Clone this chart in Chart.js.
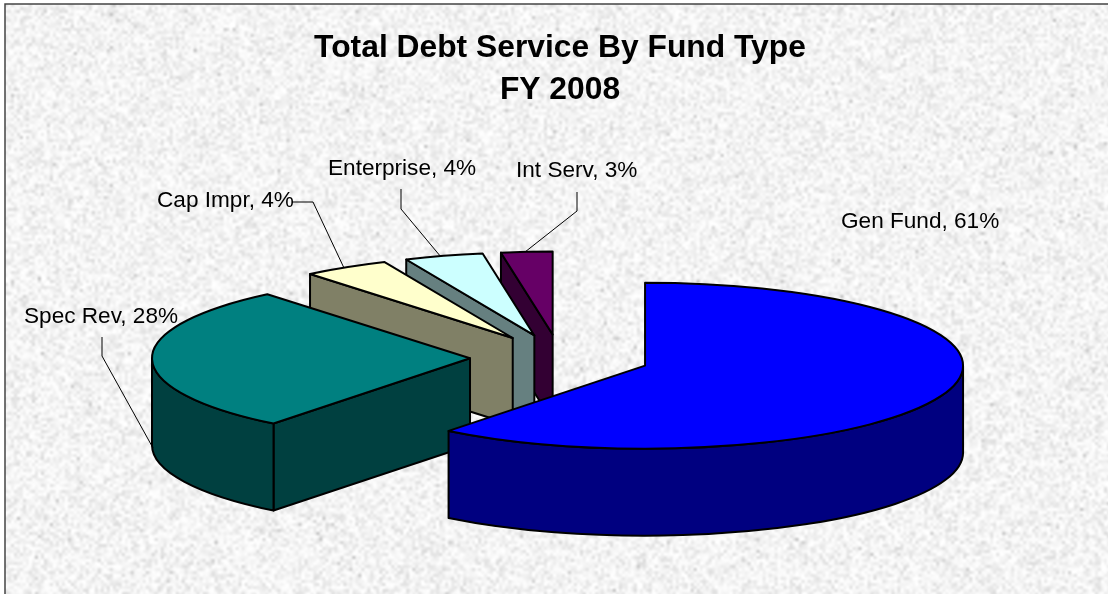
<!DOCTYPE html>
<html>
<head>
<meta charset="utf-8">
<title>Total Debt Service By Fund Type</title>
<script src="https://cdn.jsdelivr.net/npm/chart.js@4"></script>
<style>
  html, body { margin: 0; padding: 0; background: #fff; }
  canvas { display: block; }
</style>
</head>
<body>
<canvas id="debtChart" width="1108" height="594"></canvas>
<script>
const fundTypes = ['Gen Fund', 'Spec Rev', 'Cap Impr', 'Enterprise', 'Int Serv'];
// labels only show whole percents, slice widths read closer to these
const fundShares = [60.6, 28.4, 4.4, 4.0, 2.6];
const topColors = ['#0000FF', '#008080', '#FFFFCC', '#CCFFFF', '#660066'];
const wallColors = ['#000080', '#004040', '#808066', '#668080', '#330033'];

// pie look
const RADIUS = 318;
const SQUASH = 0.261;
const DEPTH = 87;
const EXPLODE = 90;

// label anchors (left, baseline) and leader lines, same order as fundTypes
const labelSpots = [[841, 228], [24, 323], [157, 207], [328, 175], [516, 177]];
const leaders = [
  null,
  [[102, 337], [102, 356], [153, 448]],
  [[292, 202], [313, 202], [344, 268]],
  [[401, 189], [401, 209], [441, 257]],
  [[577, 192], [577, 211], [525, 252]]
];

// granite paper behind the chart
function makeTexture(w, h) {
  const small = document.createElement('canvas');
  small.width = Math.ceil(w / 3);
  small.height = Math.ceil(h / 3);
  const sctx = small.getContext('2d');
  const img = sctx.createImageData(small.width, small.height);
  let seed = 20080;
  for (let i = 0; i < img.data.length; i += 4) {
    seed = (seed * 1664525 + 1013904223) >>> 0;
    const n = seed / 4294967296;
    seed = (seed * 1664525 + 1013904223) >>> 0;
    const m = seed / 4294967296;
    let g = 218 + 37 * Math.sqrt(n);
    if (m < 0.01) g -= 30;
    img.data[i] = img.data[i + 1] = img.data[i + 2] = g;
    img.data[i + 3] = 255;
  }
  sctx.putImageData(img, 0, 0);
  return small;
}

const paper = {
  id: 'paper',
  beforeDraw(chart) {
    const { ctx, width, height } = chart;
    ctx.save();
    ctx.fillStyle = '#fff';
    ctx.fillRect(0, 0, width, height);
    ctx.imageSmoothingEnabled = true;
    ctx.imageSmoothingQuality = 'high';
    ctx.drawImage(makeTexture(width, height), 5, 4, width, height);
    ctx.strokeStyle = '#444';
    ctx.lineWidth = 1.5;
    ctx.beginPath();
    ctx.moveTo(5, height);
    ctx.lineTo(5, 4);
    ctx.lineTo(width, 4);
    ctx.stroke();
    ctx.restore();
  }
};

function sliceCentre(arc) {
  const mid = (arc.startAngle + arc.endAngle) / 2;
  return {
    x: arc.x + Math.cos(mid) * EXPLODE,
    y: arc.y + Math.sin(mid) * EXPLODE * SQUASH
  };
}

function edge(c, angle) {
  return {
    x: c.x + Math.cos(angle) * RADIUS,
    y: c.y + Math.sin(angle) * RADIUS * SQUASH
  };
}

function radialWall(ctx, c, angle) {
  const p = edge(c, angle);
  ctx.beginPath();
  ctx.moveTo(c.x, c.y);
  ctx.lineTo(p.x, p.y);
  ctx.lineTo(p.x, p.y + DEPTH);
  ctx.lineTo(c.x, c.y + DEPTH);
  ctx.closePath();
  ctx.fill();
  ctx.stroke();
}

function drawSlice(ctx, arc, wall) {
  const c = sliceCentre(arc);
  const ry = RADIUS * SQUASH;

  ctx.save();
  ctx.fillStyle = wall;
  ctx.strokeStyle = '#000';
  ctx.lineWidth = 2;
  ctx.lineJoin = 'round';

  // flat faces, only the ones turned toward the viewer
  if (Math.cos(arc.endAngle) > 0.001) radialWall(ctx, c, arc.endAngle);
  if (Math.cos(arc.startAngle) < -0.001) radialWall(ctx, c, arc.startAngle);

  // round outer face, front half only
  const from = Math.max(arc.startAngle, 0);
  const to = Math.min(arc.endAngle, Math.PI);
  if (to > from) {
    ctx.beginPath();
    ctx.ellipse(c.x, c.y, RADIUS, ry, 0, from, to);
    ctx.ellipse(c.x, c.y + DEPTH, RADIUS, ry, 0, to, from, true);
    ctx.closePath();
    ctx.fill();
    ctx.stroke();
  }
  ctx.restore();

  // top face is the library's own arc, flattened
  ctx.save();
  ctx.translate(c.x - arc.x, c.y);
  ctx.scale(1, SQUASH);
  ctx.translate(0, -arc.y);
  arc.draw(ctx);
  ctx.restore();

  ctx.save();
  ctx.strokeStyle = '#000';
  ctx.lineWidth = 2;
  ctx.lineJoin = 'round';
  ctx.beginPath();
  ctx.moveTo(c.x, c.y);
  ctx.ellipse(c.x, c.y, RADIUS, ry, 0, arc.startAngle, arc.endAngle);
  ctx.closePath();
  ctx.stroke();
  ctx.restore();
}

const pie3d = {
  id: 'pie3d',
  beforeDatasetsDraw(chart) {
    const { ctx } = chart;
    const arcs = chart.getDatasetMeta(0).data;
    // back to front
    for (let i = arcs.length - 1; i >= 0; i--) {
      drawSlice(ctx, arcs[i], wallColors[i]);
    }
    return false;
  },
  afterDraw(chart) {
    const { ctx } = chart;
    ctx.save();
    ctx.strokeStyle = '#000';
    ctx.lineWidth = 1;
    leaders.forEach(line => {
      if (!line) return;
      ctx.beginPath();
      line.forEach((p, i) => (i ? ctx.lineTo(p[0], p[1]) : ctx.moveTo(p[0], p[1])));
      ctx.stroke();
    });
    ctx.fillStyle = '#000';
    ctx.font = '22.6px "Liberation Sans", Arial, sans-serif';
    ctx.textAlign = 'left';
    ctx.textBaseline = 'alphabetic';
    fundTypes.forEach((name, i) => {
      ctx.fillText(`${name}, ${Math.round(fundShares[i])}%`, labelSpots[i][0], labelSpots[i][1]);
    });
    ctx.restore();
  }
};

new Chart(document.getElementById('debtChart'), {
  type: 'pie',
  data: {
    labels: fundTypes,
    datasets: [{
      data: fundShares,
      backgroundColor: topColors,
      borderWidth: 0,
      radius: RADIUS,
      clip: false
    }]
  },
  options: {
    responsive: false,
    animation: false,
    layout: { padding: { left: 12 } },
    plugins: {
      legend: { display: false },
      tooltip: { enabled: false },
      title: {
        display: true,
        text: ['Total Debt Service By Fund Type', 'FY 2008'],
        color: '#000',
        font: { family: '"Liberation Sans", Arial, sans-serif', size: 31.8, weight: 'bold', lineHeight: 1.32 },
        padding: { top: 27, bottom: 11 }
      }
    }
  },
  plugins: [paper, pie3d]
});
</script>
</body>
</html>
